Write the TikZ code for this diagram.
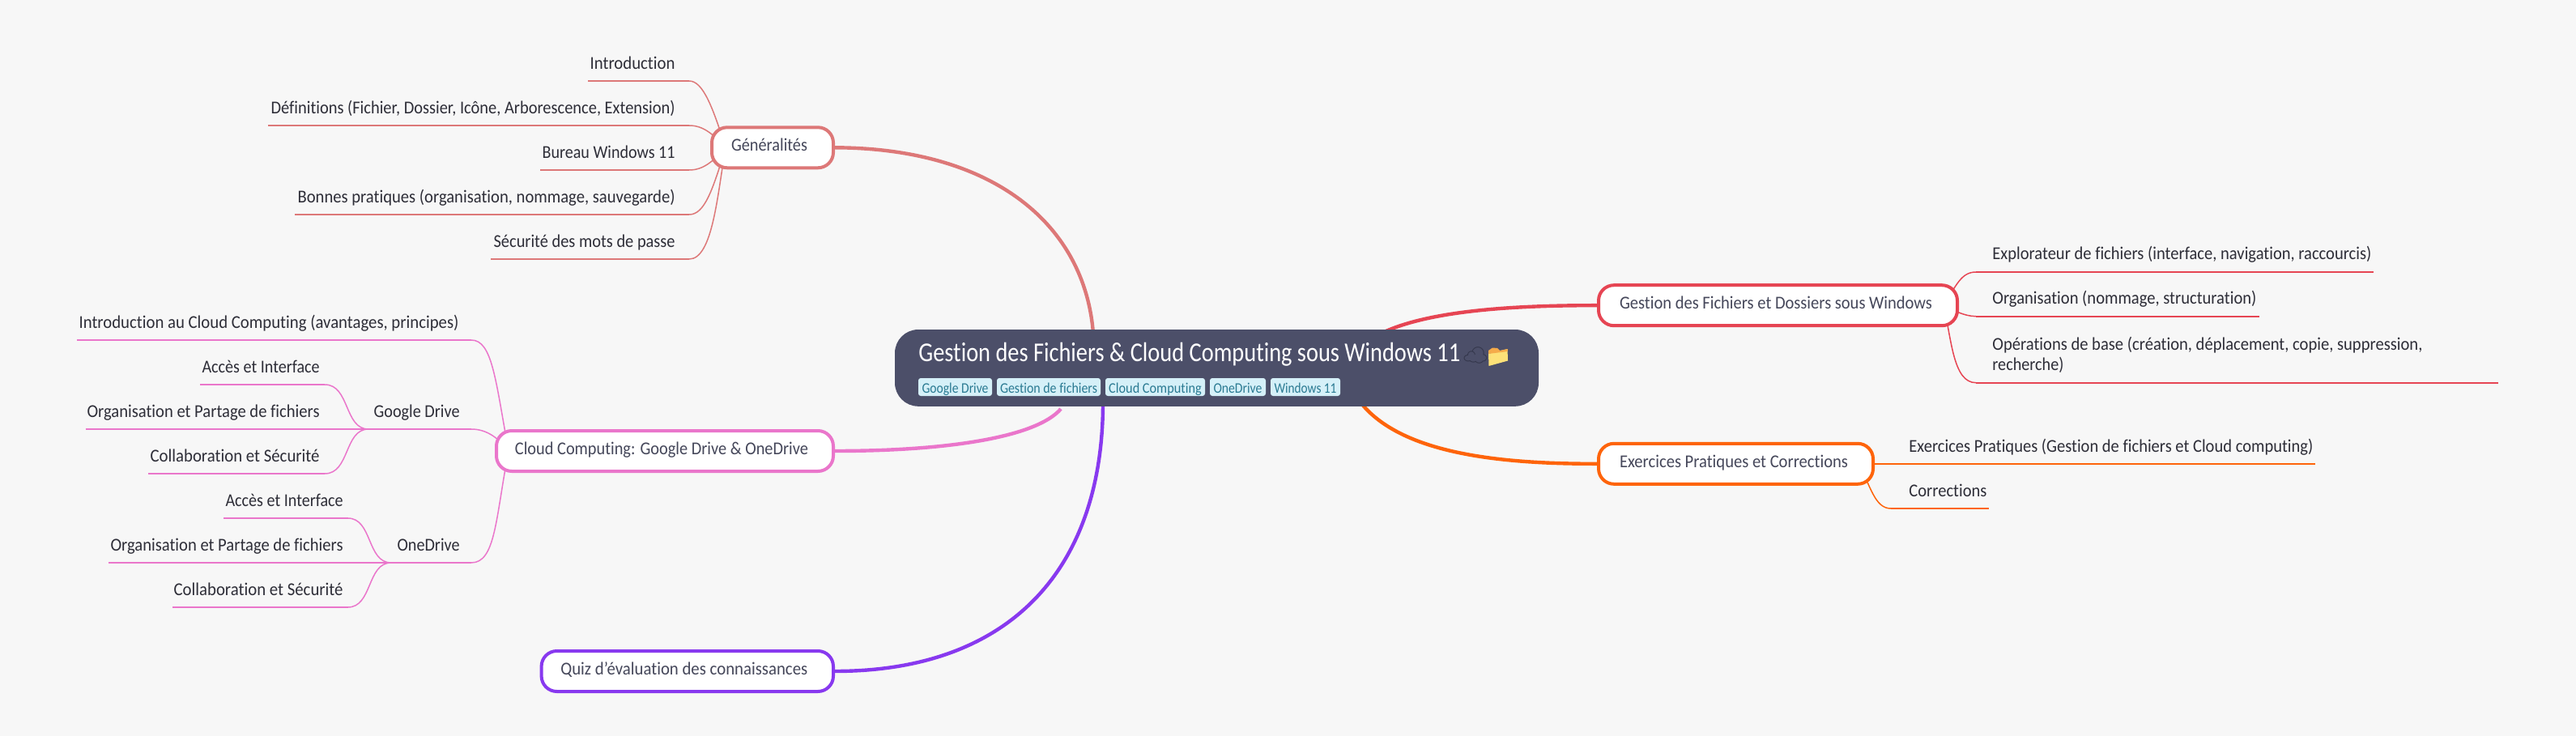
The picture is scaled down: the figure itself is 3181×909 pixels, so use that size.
\documentclass[tikz,border=0pt]{standalone}
\usepackage{fontspec}
\usepackage{graphicx}
\setmainfont{Carlito}[RawFeature={-liga;-clig;-dlig}]
\newfontfamily\emojifont{Noto Emoji}
\usetikzlibrary{backgrounds}
\definecolor{bgc}{HTML}{F7F7F7}
\definecolor{flam}{HTML}{DD7878}
\definecolor{pinkc}{HTML}{EA76CB}
\definecolor{mauve}{HTML}{8839EF}
\definecolor{maroon}{HTML}{E64553}
\definecolor{peach}{HTML}{FE640B}
\definecolor{rootc}{HTML}{4C4F69}
\definecolor{tagbg}{HTML}{D5F0F8}
\definecolor{tagfg}{HTML}{2A7A92}
\definecolor{leaffg}{HTML}{2E2E38}
\definecolor{branchfg}{HTML}{45475A}
\definecolor{folderc}{HTML}{FDE178}
\definecolor{tabc}{HTML}{F5AB4A}
\definecolor{cloudc}{HTML}{33364A}
% fit text to a width given in reference pixels (1px = 0.5pt), height unchanged
\newcommand{\fw}[2]{\resizebox{#1\dimexpr 0.5pt\relax}{\height}{#2}}
\tikzset{
  x=0.5pt,y=-0.5pt,
  leaftext/.style={inner sep=0pt,font=\fontsize{11.2}{13}\selectfont,text=leaffg},
  branchbox/.style={draw=#1,fill=white,line width=2pt,rounded corners=9.5pt,inner xsep=0pt,inner ysep=0pt,
     minimum height=25pt,text height=8pt,text depth=3.5pt,text=branchfg,font=\fontsize{11.2}{13}\selectfont},
  mainlink/.style={draw=#1,line width=2.2pt},
  under/.style={draw=#1,line width=0.9pt},
  curve/.style={draw=#1,line width=0.75pt},
  tagbox/.style={fill=tagbg,rounded corners=1.5pt,inner sep=0pt,minimum height=11pt,text height=9pt,text depth=1.7pt,
     text=tagfg,font=\fontsize{9}{11}\selectfont},
}
\begin{document}
\begin{tikzpicture}
\useasboundingbox (0,0) rectangle (3181,909);
% root
\node[fill=rootc,rounded corners=14.5pt,minimum width=397.5pt,minimum height=47.4pt,inner sep=0pt] (root) at (1502.5,454.4) {};
\node[anchor=base west,inner sep=0pt,text=white,font=\fontsize{16.8}{20}\selectfont] (title) at (1134,446) {\fw{669}{Gestion des Fichiers \& Cloud Computing sous Windows 11}};
\node[inner sep=0pt,text=cloudc,font=\emojifont\fontsize{12.5}{14}\selectfont] (cloud) at (1822,438.5) {☁};
\fill[folderc] (1838.5,452) -- (1838,437) -- (1861.5,431) -- (1862,445.5) -- cycle;
\fill[tabc] (1838,437) -- (1838,433) -- (1843,429.5) -- (1849,430) -- (1852,433) -- (1861.5,431) -- (1861.5,434) -- cycle;
\node[tagbox,minimum width=45.5pt] (t1) at (1179.5,478) {\fw{82}{Google Drive}};
\node[tagbox,minimum width=64pt] (t2) at (1295,478) {\fw{120}{Gestion de fichiers}};
\node[tagbox,minimum width=61.5pt] (t3) at (1426.5,478) {\fw{114.6}{Cloud Computing}};
\node[tagbox,minimum width=34.5pt] (t4) at (1528.5,478) {\fw{60}{OneDrive}};
\node[tagbox,minimum width=43pt] (t5) at (1612,478) {\fw{77}{Windows 11}};
% branches
\node[branchbox=flam,anchor=east,minimum width=75pt] (gen) at (1031,182.3) {\fw{94}{Généralités}\kern4pt};
\node[branchbox=pinkc,anchor=east,minimum width=208pt] (cc) at (1031,557) {\fw{362}{Cloud Computing: Google Drive \& OneDrive}\kern4pt};
\node[branchbox=mauve,anchor=east,minimum width=180.2pt] (quiz) at (1031,829) {\fw{305}{Quiz d'évaluation des connaissances}\kern4pt};
\node[branchbox=maroon,anchor=west,minimum width=221.5pt] (fich) at (1972,377.2) {\fw{386}{Gestion des Fichiers et Dossiers sous Windows}\kern2.5pt};
\node[branchbox=peach,anchor=west,minimum width=169.5pt] (exo) at (1972,572.8) {\fw{282}{Exercices Pratiques et Corrections}\kern2.5pt};
% Généralités leaves
\node[leaftext,anchor=base east] (g1) at (834,85.5) {\fw{105}{Introduction}};
\node[leaftext,anchor=base east] (g2) at (834,140.5) {\fw{499}{Définitions (Fichier, Dossier, Icône, Arborescence, Extension)}};
\node[leaftext,anchor=base east] (g3) at (834,195.5) {\fw{164}{Bureau Windows 11}};
\node[leaftext,anchor=base east] (g4) at (834,250.5) {\fw{466}{Bonnes pratiques (organisation, nommage, sauvegarde)}};
\node[leaftext,anchor=base east] (g5) at (834,305.5) {\fw{224}{Sécurité des mots de passe}};
% Cloud leaves
\node[leaftext,anchor=base east] (c1) at (567,405.5) {\fw{469}{Introduction au Cloud Computing (avantages, principes)}};
\node[leaftext,anchor=base east] (c2) at (568,515.5) {\fw{106}{Google Drive}};
\node[leaftext,anchor=base east] (c3) at (395,460.5) {\fw{145}{Accès et Interface}};
\node[leaftext,anchor=base east] (c4) at (395,515.5) {\fw{287}{Organisation et Partage de fichiers}};
\node[leaftext,anchor=base east] (c5) at (395,570.5) {\fw{209}{Collaboration et Sécurité}};
\node[leaftext,anchor=base east] (c6) at (568,680.5) {\fw{77}{OneDrive}};
\node[leaftext,anchor=base east] (c7) at (424,625.5) {\fw{145}{Accès et Interface}};
\node[leaftext,anchor=base east] (c8) at (424,680.5) {\fw{287}{Organisation et Partage de fichiers}};
\node[leaftext,anchor=base east] (c9) at (424,735.5) {\fw{209}{Collaboration et Sécurité}};
% Fichiers leaves
\node[leaftext,anchor=base west] (f1) at (2460,321) {\fw{468}{Explorateur de fichiers (interface, navigation, raccourcis)}};
\node[leaftext,anchor=base west] (f2) at (2460,376) {\fw{326}{Organisation (nommage, structuration)}};
\node[leaftext,anchor=base west] (f3) at (2460,432) {\fw{531}{Opérations de base (création, déplacement, copie, suppression,}};
\node[leaftext,anchor=base west] (f3b) at (2460,457.5) {\fw{88}{recherche)}};
% Exercices leaves
\node[leaftext,anchor=base west] (e1) at (2357,558) {\fw{499}{Exercices Pratiques (Gestion de fichiers et Cloud computing)}};
\node[leaftext,anchor=base west] (e2) at (2357,613) {\fw{96}{Corrections}};
% free ends of the connectors
\coordinate (rg) at (1350,412); \coordinate (rc) at (1310,505); \coordinate (rq) at (1362,497);
\coordinate (rf) at (1705,412); \coordinate (re) at (1680,497);
\coordinate (hg) at (896,182.3); \coordinate (hc) at (628,557);
\coordinate (hf) at (2400,377); \coordinate (he) at (2295,573);
\coordinate (hgd) at (455,530); \coordinate (hod) at (483,695);
\begin{scope}[on background layer]
\fill[bgc] (0,0) rectangle (3181,909);
% main links
\draw[mainlink=flam] (gen.east) .. controls (1230,183) and (1340,280) .. (rg);
\draw[mainlink=pinkc] (cc.east) .. controls (1170,557) and (1280,540) .. (rc);
\draw[mainlink=mauve] (quiz.east) .. controls (1250,829) and (1362,700) .. (rq);
\draw[mainlink=maroon] (fich.west) .. controls (1860,377) and (1760,385) .. (rf);
\draw[mainlink=peach] (exo.west) .. controls (1850,573) and (1730,560) .. (re);
% Généralités
\draw[under=flam] (726,100) -- (851,100);
\draw[under=flam] (331,155) -- (851,155);
\draw[under=flam] (667,210) -- (851,210);
\draw[under=flam] (364,265) -- (851,265);
\draw[under=flam] (606,320) -- (851,320);
\draw[curve=flam] (851,100) .. controls (868,100) and (880,132) .. (hg);
\draw[curve=flam] (851,155) .. controls (868,155) and (880,165) .. (hg);
\draw[curve=flam] (851,210) .. controls (868,210) and (880,200) .. (hg);
\draw[curve=flam] (851,265) .. controls (870,265) and (880,235) .. (hg);
\draw[curve=flam] (851,320) .. controls (880,320) and (886,240) .. (hg);
% Cloud
\draw[under=pinkc] (95,420) -- (582,420);
\draw[under=pinkc] (455,530) -- (582,530);
\draw[under=pinkc] (483,695) -- (582,695);
\draw[curve=pinkc] (582,420) .. controls (608,420) and (612,470) .. (hc);
\draw[curve=pinkc] (582,530) .. controls (600,530) and (615,540) .. (hc);
\draw[curve=pinkc] (582,695) .. controls (612,695) and (612,640) .. (hc);
\draw[under=pinkc] (247,475) -- (401,475);
\draw[under=pinkc] (105.5,530) -- (hgd);
\draw[under=pinkc] (183,585) -- (401,585);
\draw[curve=pinkc] (401,475) .. controls (432,475) and (425,530) .. (hgd);
\draw[curve=pinkc] (401,585) .. controls (432,585) and (425,530) .. (hgd);
\draw[under=pinkc] (276,640) -- (429.5,640);
\draw[under=pinkc] (134,695) -- (hod);
\draw[under=pinkc] (213,750) -- (429.5,750);
\draw[curve=pinkc] (429.5,640) .. controls (460,640) and (453,695) .. (hod);
\draw[curve=pinkc] (429.5,750) .. controls (460,750) and (453,695) .. (hod);
% Fichiers
\draw[under=maroon] (2440,336) -- (2931,336);
\draw[under=maroon] (2440,390.7) -- (2790,390.7);
\draw[under=maroon] (2440,472.7) -- (3085,472.7);
\draw[curve=maroon] (2440,336) .. controls (2422,336) and (2416,352) .. (hf);
\draw[curve=maroon] (2440,390.7) .. controls (2425,390.7) and (2410,382) .. (hf);
\draw[curve=maroon] (2440,472.7) .. controls (2412,472.7) and (2410,420) .. (hf);
% Exercices
\draw[under=peach] (he) -- (2859,573);
\draw[under=peach] (2335,628) -- (2456,628);
\draw[curve=peach] (2335,628) .. controls (2315,628) and (2310,600) .. (he);
\end{scope}
\end{tikzpicture}
\end{document}
